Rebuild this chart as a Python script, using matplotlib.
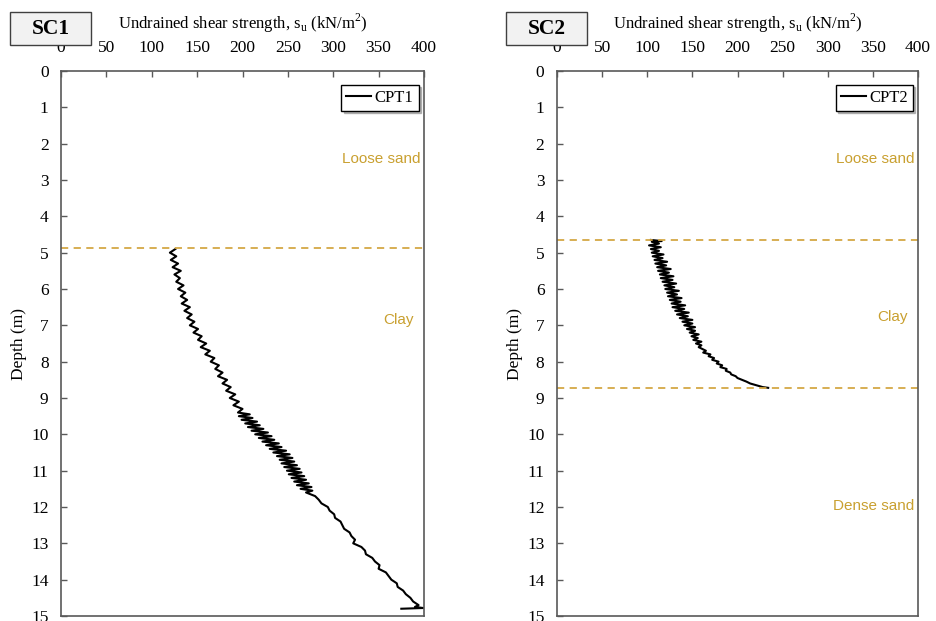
import matplotlib
matplotlib.use("Agg")
import matplotlib.pyplot as plt
from matplotlib.patches import Rectangle

plt.rcParams['font.family'] = ['Liberation Serif', 'DejaVu Serif']
plt.rcParams['mathtext.fontset'] = 'custom'
plt.rcParams['mathtext.rm'] = 'Liberation Serif'

# CPT1 (SC1): depth (m) / su (kN/m2)
depth1 = [4.90, 5.00, 5.10, 5.20, 5.30, 5.40, 5.50, 5.60, 5.70, 5.80, 5.90, 6.00,
          6.10, 6.20, 6.30, 6.40, 6.50, 6.60, 6.70, 6.80, 6.90, 7.00, 7.10, 7.20,
          7.30, 7.40, 7.50, 7.60, 7.70, 7.80, 7.90, 8.00, 8.10, 8.20, 8.30, 8.40,
          8.50, 8.60, 8.70, 8.80, 8.90, 9.00, 9.10, 9.20, 9.30, 9.40,
          9.45, 9.50, 9.55, 9.60, 9.65, 9.70, 9.75, 9.80, 9.85, 9.90, 9.95, 10.00,
          10.05, 10.10, 10.15, 10.20, 10.25, 10.30, 10.35, 10.40, 10.45, 10.50,
          10.55, 10.60, 10.65, 10.70, 10.75, 10.80, 10.85, 10.90, 10.95, 11.00,
          11.05, 11.10, 11.15, 11.20, 11.25, 11.30, 11.35, 11.40, 11.45, 11.50,
          11.55, 11.60,
          11.70, 11.80, 11.90, 12.00, 12.10, 12.20, 12.30, 12.40, 12.50, 12.60,
          12.70, 12.80, 12.90, 13.00, 13.10, 13.20, 13.30, 13.40, 13.50, 13.60,
          13.70, 13.80, 13.90, 14.00, 14.10, 14.20, 14.30, 14.40, 14.50, 14.60,
          14.70, 14.75, 14.78, 14.80]
su1 = [126, 120, 127, 121, 129, 123, 132, 125, 131, 127, 135, 129,
       137, 132, 139, 133, 142, 136, 144, 139, 147, 142, 151, 146,
       155, 151, 160, 154, 164, 159, 169, 165, 174, 170, 178, 173,
       183, 178, 187, 182, 192, 186, 196, 190, 200, 195,
       208, 196, 211, 199, 216, 203, 219, 206, 223, 210, 228, 214,
       232, 218, 235, 222, 240, 226, 243, 230, 248, 234,
       252, 238, 255, 241, 257, 243, 260, 246, 263, 249,
       265, 251, 268, 254, 270, 257, 273, 260, 276, 264,
       277, 270,
       280, 284, 287, 294, 296, 301, 302, 308, 310, 312,
       318, 320, 324, 322, 331, 335, 336, 343, 346, 351,
       350, 358, 361, 364, 370, 371, 377, 380, 385, 388,
       394, 390, 399, 375]

# CPT2 (SC2)
depth2 = [4.65, 4.68, 4.70, 4.75, 4.80, 4.85, 4.90, 4.95, 5.00, 5.05, 5.10, 5.15,
          5.20, 5.25, 5.30, 5.35, 5.40, 5.45, 5.50, 5.55, 5.60, 5.65, 5.70, 5.75,
          5.80, 5.85, 5.90, 5.95, 6.00, 6.05, 6.10, 6.15, 6.20, 6.25, 6.30, 6.35,
          6.40, 6.45, 6.50, 6.55, 6.60, 6.65, 6.70, 6.75, 6.80, 6.85, 6.90, 6.95,
          7.00, 7.05, 7.10, 7.15, 7.20, 7.25, 7.30, 7.35, 7.40, 7.45, 7.50, 7.55,
          7.60, 7.70, 7.75, 7.80, 7.85, 7.90, 7.95, 8.00, 8.05, 8.10, 8.15, 8.20,
          8.25, 8.30, 8.35, 8.40, 8.45, 8.50, 8.55, 8.60, 8.65, 8.70, 8.72]
su2 = [104, 116, 105, 113, 102, 115, 104, 113, 105, 118, 106, 117,
       108, 122, 109, 121, 111, 126, 112, 124, 114, 129, 115, 128,
       117, 132, 119, 130, 120, 135, 122, 133, 123, 138, 125, 137,
       127, 142, 128, 141, 131, 146, 133, 145, 136, 150, 139, 150,
       141, 153, 144, 153, 147, 157, 149, 156, 151, 160, 154, 160,
       157, 165, 162, 170, 168, 174, 172, 179, 177, 183, 181, 188,
       187, 192, 193, 198, 200, 205, 210, 214, 221, 228, 234]

boundaries1 = [4.88]
boundaries2 = [4.65, 8.73]
layers1 = [("Loose sand", 2.42, 396), ("Clay", 6.86, 389)]
layers2 = [("Loose sand", 2.42, 396), ("Clay", 6.78, 389), ("Dense sand", 11.96, 396)]

gold_line = '#D4A845'
gold_text = '#C9A030'
frame = '#595959'

fig = plt.figure(figsize=(9.36, 6.21), dpi=100)
ax1 = fig.add_axes([61 / 936, 1 - 616 / 621, 363 / 936, 545 / 621])
ax2 = fig.add_axes([557 / 936, 1 - 616 / 621, 361 / 936, 545 / 621])

panels = [(ax1, depth1, su1, 'CPT1', boundaries1, layers1, 'SC1', 10),
          (ax2, depth2, su2, 'CPT2', boundaries2, layers2, 'SC2', 506)]

for ax, d, s, name, bounds, layers, site, box_x in panels:
    ax.plot(s, d, color='black', lw=1.5, label=name)
    for b in bounds:
        ax.axhline(b, color=gold_line, lw=1.3, ls=(0, (4, 3)))
    for txt, y, x in layers:
        ax.text(x, y, txt, ha='right', va='center', color=gold_text,
                fontsize=11, family='Liberation Sans')

    ax.set_xlim(0, 400)
    ax.set_ylim(15, 0)
    ax.set_xticks(range(0, 401, 50))
    ax.set_yticks(range(0, 16))
    ax.xaxis.tick_top()
    ax.xaxis.set_label_position('top')
    ax.tick_params(direction='in', length=4, width=1, color=frame, labelsize=12.5)
    ax.tick_params(axis='x', pad=11)
    ax.tick_params(axis='y', pad=9)
    for sp in ax.spines.values():
        sp.set_color(frame)
        sp.set_linewidth(1.2)
    ax.set_xlabel(r'Undrained shear strength, s$_\mathrm{u}$ (kN/m$^2$)',
                  fontsize=12, labelpad=8)
    ax.set_ylabel('Depth (m)', fontsize=12.5, labelpad=3)

    leg = ax.legend(loc='upper right', bbox_to_anchor=(0.985, 0.975),
                    borderaxespad=0, fancybox=False, shadow={'color': '0.55', 'alpha': 0.6},
                    handlelength=1.5, handletextpad=0.2, fontsize=12,
                    borderpad=0.3)
    leg.get_frame().set_edgecolor('black')
    leg.get_frame().set_linewidth(1.0)

    fig.patches.append(Rectangle((box_x / 936, 1 - 45 / 621), 81 / 936, 33 / 621,
                                 transform=fig.transFigure, facecolor='#F2F2F2',
                                 edgecolor='#404040', lw=1.0))
    fig.text((box_x + 40.5) / 936, 1 - 28.5 / 621, site, ha='center', va='center',
             fontsize=15.5, fontweight='bold')

fig.savefig('out.png', dpi=100)
